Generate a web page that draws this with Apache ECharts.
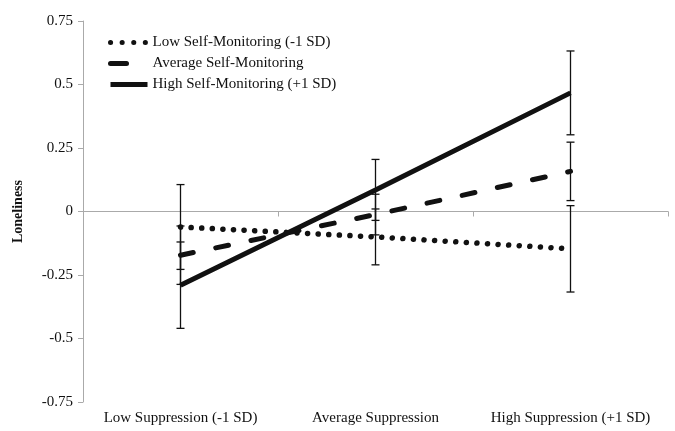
<!DOCTYPE html>
<html><head><meta charset="utf-8">
<script src="https://cdn.jsdelivr.net/npm/echarts@6/dist/echarts.min.js"></script>
<style>html,body{margin:0;padding:0;background:#fff}#c{width:675px;height:431px}</style>
</head><body><div id="c"></div>
<script>
var categories = ['Low Suppression (-1 SD)', 'Average Suppression', 'High Suppression (+1 SD)'];
var seriesNames = ['Low Self-Monitoring (-1 SD)', 'Average Self-Monitoring', 'High Self-Monitoring (+1 SD)'];
var lowSM = [-0.061, -0.10, -0.147];
var avgSM = [-0.172, -0.012, 0.158];
var highSM = [-0.29, 0.085, 0.467];
var lowSMErr = [0.167, 0.11, 0.17];
var avgSMErr = [0.115, 0.08, 0.115];
var highSMErr = [0.17, 0.12, 0.165];
var yTicks = [-0.75, -0.5, -0.25, 0, 0.25, 0.5, 0.75];

var font = 'Liberation Serif';
function errData(m, e){ return m.map(function(v,i){ return [i, v - e[i], v + e[i]]; }); }
function errSeries(m, e){
  return {
    type: 'custom', z: 1, silent: true,
    data: errData(m, e),
    renderItem: function(params, api){
      var x = api.value(0), lo = api.value(1), hi = api.value(2);
      var a = api.coord([x, hi]), b = api.coord([x, lo]);
      var st = {stroke: '#111', lineWidth: 1.3};
      return {type: 'group', children: [
        {type: 'line', shape: {x1: a[0], y1: a[1], x2: b[0], y2: b[1]}, style: st},
        {type: 'line', shape: {x1: a[0]-4, y1: a[1], x2: a[0]+4, y2: a[1]}, style: st},
        {type: 'line', shape: {x1: b[0]-4, y1: b[1], x2: b[0]+4, y2: b[1]}, style: st}
      ]};
    }
  };
}
var legendStyles = [
  {color: '#111', width: 5, type: [0.1, 11.5], cap: 'round'},
  {color: '#111', width: 5, type: [16, 60], cap: 'round'},
  {color: '#111', width: 5, type: 'solid'}
];
var chart = echarts.init(document.getElementById('c'));
chart.setOption({
  animation: false,
  grid: {left: 83, right: 7, top: 21, bottom: 29},
  legend: {
    left: 108, top: 35, padding: 0, orient: 'vertical', itemGap: 6, itemWidth: 37, itemHeight: 14,
    textStyle: {fontFamily: font, fontSize: 15, color: '#111'},
    itemStyle: {color: 'rgba(0,0,0,0)', borderColor: 'rgba(0,0,0,0)', borderWidth: 0},
    data: seriesNames.map(function(n, i){
      return {name: n, lineStyle: legendStyles[i],
              itemStyle: {color: 'rgba(0,0,0,0)', borderColor: 'rgba(0,0,0,0)', borderWidth: 0}};
    })
  },
  xAxis: [
    {type: 'category', data: categories, position: 'bottom',
     axisLine: {onZero: true, lineStyle: {color: '#aaa', width: 1}},
     axisTick: {show: true, length: 5, lineStyle: {color: '#aaa'}},
     axisLabel: {show: false}},
    {type: 'category', data: categories, position: 'bottom',
     axisLine: {show: false, onZero: false}, axisTick: {show: false},
     axisLabel: {interval: 0, fontFamily: font, fontSize: 15, color: '#111', margin: 9}}
  ],
  yAxis: {
    type: 'value', min: -0.75, max: 0.75, interval: 0.25,
    name: 'Loneliness', nameLocation: 'middle', nameGap: 58, nameRotate: 90,
    nameTextStyle: {fontFamily: font, fontSize: 14, fontWeight: 'bold', color: '#111'},
    splitLine: {show: false},
    axisLine: {show: true, lineStyle: {color: '#aaa'}},
    axisTick: {show: true, length: 5, lineStyle: {color: '#aaa'}},
    axisLabel: {fontFamily: font, fontSize: 15, color: '#111', margin: 10,
      formatter: function(v){ return String(Math.round(v*100)/100); }}
  },
  series: [
    {name: seriesNames[0], type: 'line', data: lowSM, symbol: 'none', z: 3,
     lineStyle: {color: '#111', width: 5.5, type: [0.1, 10.5], cap: 'round'}, itemStyle: {color: '#111'}},
    {name: seriesNames[1], type: 'line', data: avgSM, symbol: 'none', z: 3,
     lineStyle: {color: '#111', width: 5, type: [13, 23], cap: 'round'}, itemStyle: {color: '#111'}},
    {name: seriesNames[2], type: 'line', data: highSM, symbol: 'none', z: 3,
     lineStyle: {color: '#111', width: 5}, itemStyle: {color: '#111'}},
    errSeries(lowSM, lowSMErr),
    errSeries(avgSM, avgSMErr),
    errSeries(highSM, highSMErr)
  ]
});
</script></body></html>
